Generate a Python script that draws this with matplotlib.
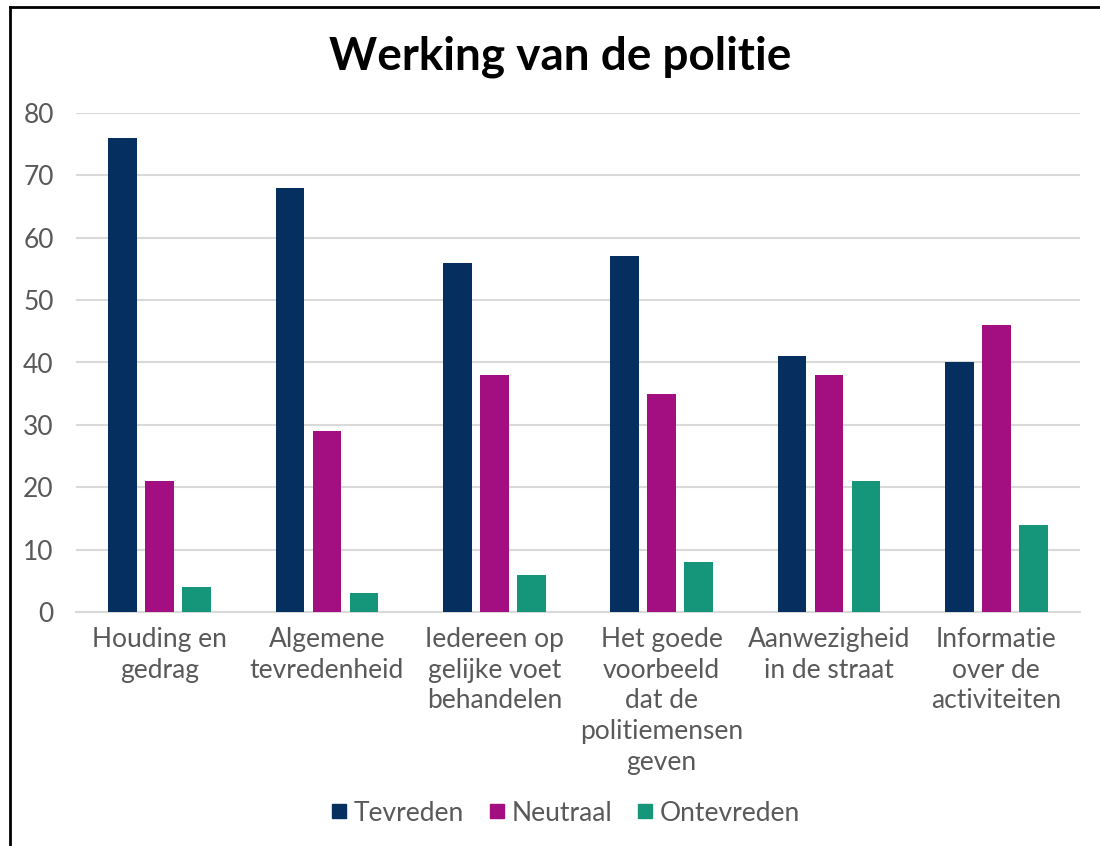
import matplotlib.pyplot as plt
import numpy as np
from matplotlib.lines import Line2D

categories = ["Houding en\ngedrag",
              "Algemene\ntevredenheid",
              "Iedereen op\ngelijke voet\nbehandelen",
              "Het goede\nvoorbeeld\ndat de\npolitiemensen\ngeven",
              "Aanwezigheid\nin de straat",
              "Informatie\nover de\nactiviteiten"]
tevreden = [76, 68, 56, 57, 41, 40]
neutraal = [21, 29, 38, 35, 38, 46]
ontevreden = [4, 3, 6, 8, 21, 14]
series_names = ["Tevreden", "Neutraal", "Ontevreden"]
colors = ["#042F5E", "#A30E80", "#15967A"]
yticks = [0, 10, 20, 30, 40, 50, 60, 70, 80]

plt.rcParams["font.family"] = ["Lato", "DejaVu Sans"]
text_grey = "#595959"
grid_grey = "#D9D9D9"

fig = plt.figure(figsize=(11, 8.46), dpi=100)
ax = fig.add_axes([76 / 1100, 1 - 612 / 846, (1080 - 76) / 1100, (612 - 113) / 846])

x = np.arange(len(categories))
width = 0.173
step = 0.221
for i, (vals, name, c) in enumerate(zip([tevreden, neutraal, ontevreden], series_names, colors)):
    ax.bar(x + (i - 1) * step, vals, width, color=c, label=name, zorder=3)

ax.set_xlim(-0.5, len(categories) - 0.5)
ax.set_ylim(0, 80)
ax.set_yticks(yticks)
ax.set_xticks(x)
ax.set_xticklabels(categories, linespacing=1.28)
ax.tick_params(axis="both", length=0, labelsize=19, colors=text_grey)
ax.tick_params(axis="y", pad=16)
ax.tick_params(axis="x", pad=11)
ax.yaxis.grid(True, color=grid_grey, linewidth=1.5, zorder=0)
for s in ["top", "right", "left"]:
    ax.spines[s].set_visible(False)
ax.spines["bottom"].set_color(grid_grey)
ax.spines["bottom"].set_linewidth(1.5)

fig.text(560 / 1100, 1 - 57 / 846, "Werking van de politie", ha="center", va="center",
         fontsize=33, fontweight="bold", color="black")

handles = [Line2D([], [], marker="s", linestyle="", markersize=9.5, color=c) for c in colors]
fig.legend(handles, series_names, loc="center", bbox_to_anchor=(563 / 1100, 1 - 813 / 846),
           ncol=3, frameon=False, fontsize=19, labelcolor=text_grey,
           handletextpad=0.05, columnspacing=0.75, handlelength=1.0)

# chart frame on left and top
fig.add_artist(Line2D([9.5 / 1100, 9.5 / 1100], [0, 1 - 7.5 / 846], color="black", linewidth=2))
fig.add_artist(Line2D([9.5 / 1100, 1], [1 - 7.5 / 846, 1 - 7.5 / 846], color="black", linewidth=2))

fig.savefig("out.png", dpi=100)
